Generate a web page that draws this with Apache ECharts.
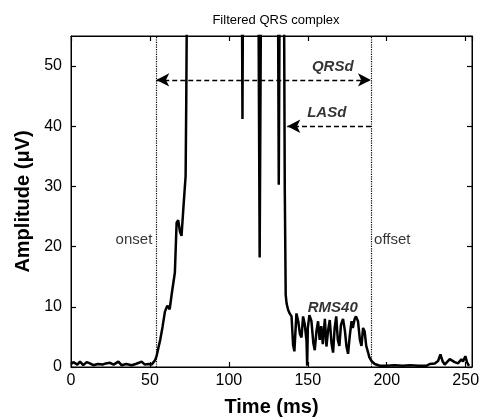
<!DOCTYPE html>
<html><head><meta charset="utf-8">
<script src="https://cdn.jsdelivr.net/npm/echarts@6/dist/echarts.min.js"></script>
<style>html,body{margin:0;padding:0;background:#fff}#c{width:480px;height:417px}</style>
</head><body><div id="c"></div>
<script>
var times = [0,1.5,2.5,4,5.7,7.8,9.9,12,14.1,17,20,22,24.7,27,30,32,35,38.4,41,43,44.7,46.8,49,51,53.2,54.2,55.3,56.5,58,59.5,61,62.5,64,65.8,66.9,67.9,69,70,71,72,72.6,73,73.4,
  80,90,100,108,108.6,109.2,113,118.6,119.5,120.5,125,131,131.6,132.3,134.8,135.4,136,136.6,
  137.5,138.5,139.7,140.7,141.5,142.8,144,145,146,147,148,149.2,149.6,150,151,152.3,153.5,154.4,155.5,156.5,157.5,158.5,159.5,160.8,161.8,162.8,163.9,165,166,167,168,169,170,171,172.3,173.5,174.5,175.5,176.5,177.7,178.5,179.7,180.5,181.8,183,184,185,186,187,188.2,189,190.3,
  191,192.4,195.6,200,205,210,215,220,225.1,227.2,230.4,232.5,234,235.3,236.7,239.9,241,243,245.1,247.3,248.3,249.8,250.8,252.1];
var amps = [0.5,0.8,0.6,0.4,0.9,0.3,0.8,0.6,0.3,0.5,0.4,0.6,0.7,0.4,0.9,0.3,0.5,0.3,0.5,0.7,0.9,0.4,0.5,0.4,1.1,1.8,3.1,4.5,6.7,9.2,10.2,9.6,12.5,15.7,24,24.4,22.5,21.8,25.7,29.5,31.7,44,60,
  90,110,95,80,41.2,80,90,70,18.2,70,85,70,30.3,70,70,30,12,10.5,
  9.5,8.9,8.4,3.6,2.6,8.9,7.5,5.5,4.9,8.4,7.2,4.3,0.2,6.5,8.6,7.6,4,2.8,6,7.6,4.5,6.8,3.8,8,3.4,6,7.8,4,2.4,6.5,8.4,4.5,3.5,7,8,6,3.4,2.2,5,7.6,6.5,8,8.4,7.6,4.5,3.5,6.5,5.9,3.5,2.4,1.6,1.0,
  0.8,0.5,0.2,0.2,0.3,0.2,0.3,0.2,0.2,0.5,0.6,1.0,2.1,1.0,0.4,1.3,1.4,0.8,0.6,1.3,0.9,1.8,0.8,0.2];
var onsetT = 54, offsetT = 190, lasStartT = 137;
var qrsdLevel = 47.7, lasdLevel = 40;
var annTexts = ['QRSd','LASd','RMS40'];
var annPos = [[165.8,49.8],[162,42.2],[165.8,9.8]];
var sideTexts = ['onset','offset'];
var sidePos = [[51.5,21.2],[192,21.2]];

var sig = times.map(function(t,i){return [t, amps[i]];});
var FONT = 'Liberation Sans, Arial, sans-serif';
var chart = echarts.init(document.getElementById('c'));
function mkAxis(extra){
  var a = {
    axisLine:{show:true,onZero:false,lineStyle:{color:'#000',width:1}},
    axisTick:{show:true,inside:true,length:5,lineStyle:{color:'#000',width:1.2}},
    splitLine:{show:false}
  };
  for (var k in extra) a[k] = extra[k];
  return a;
}
chart.setOption({
  animation:false,
  backgroundColor:'#fff',
  title:{text:'Filtered QRS complex',left:271,top:9,textAlign:'center',
    textStyle:{fontFamily:FONT,fontSize:13,fontWeight:'normal',color:'#000'}},
  grid:{left:71,right:8,top:36,bottom:50,show:true,borderColor:'#000',borderWidth:1,containLabel:false,outerBoundsMode:'none'},
  xAxis:[mkAxis({type:'value',min:0,max:254,interval:50,position:'bottom',
      name:'Time (ms)',nameLocation:'middle',nameGap:30,
      nameTextStyle:{fontFamily:FONT,fontSize:20,fontWeight:'bold',color:'#000'},
      axisLabel:{fontFamily:FONT,fontSize:16,color:'#000',margin:6,showMaxLabel:false}}),
    mkAxis({type:'value',min:0,max:254,interval:50,position:'top',axisLabel:{show:false}})],
  yAxis:[mkAxis({type:'value',min:0,max:55,interval:10,position:'left',
      name:'Amplitude (\u03bcV)',nameLocation:'middle',nameGap:35,
      nameTextStyle:{fontFamily:FONT,fontSize:20,fontWeight:'bold',color:'#000'},
      axisLabel:{fontFamily:FONT,fontSize:16,color:'#000',margin:9,showMaxLabel:false}}),
    mkAxis({type:'value',min:0,max:55,interval:10,position:'right',axisLabel:{show:false}})],
  series:[
    {type:'line',data:sig,showSymbol:false,clip:true,lineStyle:{color:'#000',width:2.5},z:3,
     markLine:{silent:true,symbol:'none',label:{show:false},
       lineStyle:{color:'#000',type:'dotted',width:1.2},
       data:[[{coord:[onsetT,0]},{coord:[onsetT,55]}],[{coord:[offsetT,0]},{coord:[offsetT,55]}]]}},
    {type:'line',data:[],markLine:{silent:true,label:{show:false},symbol:['arrow','arrow'],symbolSize:[10,13],
       lineStyle:{color:'#000',type:[5,3],width:1.3},
       data:[[{coord:[onsetT,qrsdLevel]},{coord:[offsetT,qrsdLevel]}]]}},
    {type:'line',data:[],markLine:{silent:true,label:{show:false},symbol:['none','arrow'],symbolSize:[10,13],
       lineStyle:{color:'#000',type:[5,3],width:1.3},
       data:[[{coord:[offsetT,lasdLevel]},{coord:[lasStartT,lasdLevel]}]]}},
    {type:'scatter',symbolSize:0,silent:true,z:5,
     data:annPos.map(function(p,i){return {value:p,name:annTexts[i]};}),
     label:{show:true,position:'inside',formatter:'{b}',fontFamily:FONT,fontSize:15,fontWeight:'bold',fontStyle:'italic',color:'#000'}},
    {type:'scatter',symbolSize:0,silent:true,z:5,
     data:[{value:sidePos[0],name:sideTexts[0],label:{align:'right'}},{value:sidePos[1],name:sideTexts[1],label:{align:'left'}}],
     label:{show:true,position:'inside',formatter:'{b}',fontFamily:FONT,fontSize:15,color:'#000'}}
  ]
});
</script></body></html>
